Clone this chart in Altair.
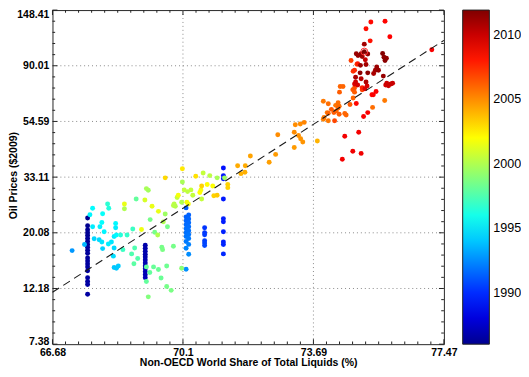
import math
import altair as alt
import pandas as pd

# ---------------- data ----------------
# share = Non-OECD world share of total liquids (%), price = oil price ($2009), year = colour
A_SHARE = [67.59, 67.59, 67.59, 67.59, 67.59, 67.59, 67.59, 67.59, 67.59, 67.59,
           67.59, 67.59, 67.59, 67.59, 67.59, 67.59, 67.59, 67.59, 67.59, 67.59]
A_PRICE = [22.95, 21.39, 20.65, 20.11, 19.59, 19.08, 18.59, 18.10, 17.63, 17.17,
           16.72, 16.01, 15.59, 15.18, 14.79, 14.28, 13.43, 12.97, 12.63, 11.57]
A_YEAR = [1986.0, 1986.0, 1986.1, 1986.1, 1986.1, 1986.2, 1986.2, 1986.2, 1986.3, 1986.3,
          1986.3, 1986.3, 1986.4, 1986.4, 1986.4, 1986.4, 1986.5, 1986.5, 1986.5, 1986.5]

B_SHARE = [69.10, 69.10, 69.10, 69.10, 69.10, 69.10, 69.10, 69.10, 69.10, 69.10, 69.10, 69.10]
B_PRICE = [17.95, 17.48, 17.02, 16.57, 16.15, 15.73, 15.32, 14.92, 14.53, 14.16, 13.79, 13.43]
B_YEAR = [1986.7, 1986.7, 1986.8, 1986.8, 1986.8, 1986.9, 1986.9, 1986.9, 1987.0, 1987.0, 1987.0, 1987.1]

C_SHARE = [71.20, 71.20, 71.20, 71.20, 71.20, 71.20, 71.20, 71.20, 71.20, 71.20]
C_PRICE = [35.92, 33.57, 32.61, 27.19, 22.81, 22.16, 20.29, 18.48, 18.07, 16.62]
C_YEAR = [1989.3, 1989.4, 1989.4, 1989.5, 1989.6, 1989.6, 1989.7, 1989.7, 1989.8, 1989.9]

D_SHARE = [70.69, 70.69, 70.69, 70.69, 70.69, 70.69]
D_PRICE = [21.01, 20.11, 19.72, 18.70, 18.32, 17.91]
D_YEAR = [1990.2, 1990.3, 1990.4, 1990.5, 1990.6, 1990.7]

E_SHARE = [70.19, 70.26, 70.19, 70.26, 70.19, 70.26, 70.19, 70.26, 70.19, 70.26,
           70.19, 70.26, 70.19, 70.26, 70.19, 70.26, 70.19, 70.26, 70.19]
E_PRICE = [25.12, 23.56, 23.15, 22.75, 22.36, 21.97, 21.58, 21.20, 20.84, 20.47,
           20.11, 19.77, 19.42, 19.08, 18.59, 18.10, 17.48, 16.57, 14.49]
E_YEAR = [1991.3, 1991.4, 1991.4, 1991.5, 1991.5, 1991.6, 1991.6, 1991.7, 1991.7, 1991.8,
          1991.8, 1991.9, 1991.9, 1992.0, 1992.0, 1992.2, 1992.3, 1992.5, 1992.6]

F_SHARE = [67.19, 67.51, 67.72, 67.65, 67.98, 68.11, 68.14, 67.72, 67.91, 68.02,
           67.96, 68.32, 68.32, 67.76, 67.89, 67.96, 68.13, 67.98, 68.21, 68.28,
           68.34, 68.45, 68.62, 68.77, 68.28, 68.51, 68.26, 68.28, 68.39, 68.34,
           68.74, 68.82, 68.90, 68.80, 69.00, 68.86, 68.55, 68.55, 69.13, 69.18,
           69.09, 69.28, 69.23, 69.45, 69.63, 69.58, 69.69, 69.35, 69.43, 69.54,
           69.56, 69.85, 69.13, 69.22, 69.32, 69.45, 69.52, 69.67, 69.13, 69.67,
           69.79, 69.18, 70.07, 69.63, 70.09, 70.09, 69.87, 69.90, 69.98, 69.95,
           70.14, 70.23, 70.32, 70.37, 70.21, 70.07, 70.45, 70.65, 70.83, 71.03,
           70.61, 70.76, 70.56, 70.61, 70.59, 70.91, 70.94, 71.03, 71.32, 71.32,
           71.23, 71.59, 71.80, 71.68, 71.79, 71.94, 72.46, 72.64, 72.70, 69.85, 70.25]
F_PRICE = [17.12, 18.07, 25.06, 23.62, 23.83, 26.02, 25.06, 21.20, 21.20, 20.29,
           22.02, 21.83, 21.01, 19.03, 18.87, 18.48, 18.15, 17.43, 18.48, 19.42,
           19.71, 19.71, 19.71, 20.78, 17.52, 17.27, 16.29, 14.70, 14.92, 14.62,
           16.62, 17.52, 15.96, 15.22, 20.70, 27.19, 26.02, 24.92, 29.87, 29.43,
           26.95, 25.50, 22.61, 24.35, 23.80, 22.16, 21.20, 20.18, 19.71, 17.63,
           17.27, 17.79, 14.79, 14.07, 14.79, 14.46, 13.39, 14.92, 12.97, 12.41,
           11.98, 11.30, 14.62, 32.90, 35.70, 31.69, 26.02, 25.50, 28.15, 27.60,
           29.53, 29.08, 29.53, 28.15, 26.41, 26.41, 33.40, 34.38, 33.57, 32.90,
           30.59, 31.02, 28.84, 27.19, 29.53, 30.59, 28.00, 28.15, 31.02, 30.13,
           32.90, 36.65, 36.65, 34.17, 34.59, 40.02, 37.86, 40.62, 48.42, 25.66, 26.02]
F_YEAR = [1992.8, 1993.6, 1995.4, 1995.2, 1995.6, 1996.6, 1996.3, 1995.0, 1995.1, 1995.2,
          1995.5, 1995.3, 1995.0, 1994.4, 1994.5, 1994.8, 1995.0, 1994.3, 1994.8, 1995.0,
          1995.3, 1996.4, 1996.8, 1997.0, 1994.5, 1997.0, 1994.6, 1994.0, 1994.1, 1994.0,
          1997.5, 1997.5, 1997.6, 1997.8, 2001.6, 1998.0, 2001.5, 2000.0, 1999.8, 1999.6,
          2001.0, 2001.5, 1998.5, 2001.5, 1999.5, 2000.0, 1998.5, 1998.5, 2000.0, 1998.5,
          1998.6, 1998.5, 1998.0, 1998.0, 1998.1, 1998.2, 1998.2, 1998.3, 1998.0, 1998.5,
          1998.6, 1998.8, 1999.0, 2003.0, 2002.6, 1999.8, 2000.2, 2000.0, 2001.8, 2000.5,
          2000.5, 2000.3, 2000.5, 2000.5, 2001.8, 2000.0, 2002.8, 2000.5, 2000.3, 1999.8,
          2003.2, 2002.0, 2002.0, 2000.5, 2001.8, 2002.0, 2003.2, 2003.4, 2003.2, 2003.2,
          1999.5, 2004.2, 2004.2, 2004.0, 2004.1, 2004.4, 2004.5, 2004.6, 2005.0, 2000.2, 2001.8]

G_SHARE = [73.19, 73.33, 73.44, 73.16, 73.28, 73.34, 73.40, 73.16, 73.81, 73.98,
           74.12, 74.00, 74.12, 74.21, 74.28, 74.35, 74.40, 74.09, 73.98, 74.12,
           74.30, 74.46, 74.54, 74.44, 74.40, 74.43, 74.33, 74.82, 74.87, 74.83,
           75.09, 75.37, 74.59, 74.63, 74.74, 74.92, 75.13, 75.25, 75.39, 74.59,
           74.99, 74.82, 75.06, 74.52, 75.74, 75.41, 75.49, 75.34, 75.75, 75.20,
           75.89, 75.32, 75.15, 75.15, 74.92, 74.97, 75.06, 75.09, 75.25, 74.77,
           74.96, 75.18, 75.20, 75.04, 74.83, 74.87, 75.03, 75.25, 74.90, 75.06,
           75.20, 74.90, 74.87, 74.96, 75.23, 75.17, 75.09, 75.47, 75.51, 75.56,
           75.42, 75.68, 75.72, 75.79, 75.75, 75.70, 75.77, 75.85, 75.92, 75.97,
           75.80, 77.12, 74.94, 74.87, 74.43]
G_PRICE = [53.01, 53.34, 54.14, 49.59, 48.15, 46.75, 45.39, 43.19, 45.78, 65.45,
           63.97, 56.57, 58.75, 60.85, 59.11, 59.95, 61.66, 59.11, 55.73, 54.90,
           54.90, 74.67, 74.67, 71.03, 64.54, 62.63, 63.08, 72.54, 71.03, 67.45,
           73.99, 69.42, 58.59, 57.87, 63.58, 64.14, 57.07, 59.11, 61.95, 47.84,
           49.59, 41.76, 40.98, 38.86, 65.86, 69.42, 71.45, 133.35, 134.17, 125.4,
           116.9, 112.56, 109.3, 102.2, 100.3, 98.65, 100.3, 97.80, 100.1, 94.42,
           91.69, 94.97, 91.06, 90.35, 85.70, 86.47, 84.46, 84.46, 81.23, 80.10,
           77.75, 77.75, 76.40, 75.79, 75.13, 73.18, 72.54, 86.47, 88.99, 86.47,
           83.98, 100.5, 97.20, 96.35, 94.42, 82.04, 75.79, 75.26, 76.40, 76.96,
           76.96, 103.99, 91.2, 73.8, 58.24]
G_YEAR = [2005.0, 2005.0, 2005.2, 2005.0, 2004.9, 2004.8, 2004.8, 2004.6, 2004.0, 2005.5,
          2005.8, 2005.5, 2006.0, 2006.3, 2006.3, 2006.0, 2006.0, 2005.5, 2005.3, 2005.5,
          2006.8, 2006.0, 2006.0, 2006.2, 2005.8, 2005.8, 2005.6, 2006.3, 2006.2, 2006.0,
          2007.8, 2008.5, 2006.0, 2006.0, 2006.3, 2008.5, 2008.8, 2008.8, 2005.8, 2008.9,
          2008.9, 2009.0, 2009.0, 2008.9, 2005.5, 2008.7, 2008.7, 2008.4, 2008.5, 2008.3,
          2008.6, 2008.2, 2011.0, 2011.9, 2011.3, 2011.2, 2011.5, 2011.0, 2011.4, 2007.0,
          2008.0, 2010.0, 2011.0, 2011.2, 2007.3, 2007.5, 2011.5, 2011.6, 2010.8, 2010.5,
          2010.6, 2009.8, 2009.5, 2009.7, 2009.6, 2009.5, 2007.0, 2011.0, 2011.2, 2011.3,
          2010.8, 2011.8, 2011.5, 2011.4, 2011.6, 2011.3, 2009.8, 2009.9, 2010.0, 2010.0,
          2009.9, 2008.8, 2006.8, 2006.5, 2006.2]

# highlighted latest observation (ringed point)
RING_SHARE = [75.15]
RING_PRICE = [102.2]

# dashed fit line end points
LINE_SHARE = [66.686, 77.478]
LINE_PRICE = [11.77, 113.1]

# axis tick labels and colour bar
X_TICK_LABELS = ["66.68", "70.1", "73.69", "77.47"]
Y_TICK_LABELS = ["7.38", "12.18", "20.08", "33.11", "54.59", "90.01", "148.41"]
CBAR_LABELS = [1990, 1995, 2000, 2005, 2010]
YEAR_MIN, YEAR_MAX = 1986.0, 2011.9
JET_FRAC = [0.0, 0.111, 0.365, 0.619, 0.873, 1.0]
JET_COLORS = ["#00008f", "#0000ff", "#00ffff", "#ffff00", "#ff0000", "#800000"]

# ---------------- chart ----------------
W, H = 396, 338
FONT = "Liberation Sans"

X_MAJOR = [math.exp(4.2 + 0.05 * i) for i in range(4)]
Y_MAJOR = [math.exp(2.0 + 0.5 * i) for i in range(7)]
X_MINOR = [math.exp(4.2 + 0.005 * i) for i in range(31) if i % 10]
Y_MINOR = [math.exp(2.0 + 0.1 * i) for i in range(31) if i % 5]


def label_expr(vals, labels):
    expr = "'%s'" % labels[-1]
    for i in range(len(vals) - 2, -1, -1):
        mid = math.sqrt(vals[i] * vals[i + 1])
        expr = "datum.value < %.5f ? '%s' : " % (mid, labels[i]) + expr
    return expr


frames = []
for s, p, y in [(A_SHARE, A_PRICE, A_YEAR), (B_SHARE, B_PRICE, B_YEAR),
                (C_SHARE, C_PRICE, C_YEAR), (D_SHARE, D_PRICE, D_YEAR),
                (E_SHARE, E_PRICE, E_YEAR), (F_SHARE, F_PRICE, F_YEAR),
                (G_SHARE, G_PRICE, G_YEAR)]:
    frames.append(pd.DataFrame({"share": s, "price": p, "year": y}))
df = pd.concat(frames, ignore_index=True).sort_values("year", kind="stable")

xscale = alt.Scale(type="log", domain=[X_MAJOR[0], X_MAJOR[-1]], nice=False)
yscale = alt.Scale(type="log", domain=[Y_MAJOR[0], Y_MAJOR[-1]], nice=False)

top_test = "datum.value > %.3f" % math.sqrt(Y_MAJOR[-1] * Y_MAJOR[-2])
bottom_test = "datum.value < %.3f" % math.sqrt(Y_MAJOR[0] * Y_MAJOR[1])

xaxis = alt.Axis(values=X_MAJOR, labelExpr=label_expr(X_MAJOR, X_TICK_LABELS),
                 title="Non-OECD World Share of Total Liquids (%)",
                 grid=False, ticks=False, tickSize=0, domain=False,
                 labelFlush=False, labelOverlap=False,
                 labelFont=FONT, labelFontSize=10.6, labelFontWeight="bold",
                 labelColor="#000000", labelPadding=3,
                 titleFont=FONT, titleFontSize=10.6, titleFontWeight="bold",
                 titleColor="#000000", titleY=21.5, titleBaseline="alphabetic")
yaxis = alt.Axis(values=Y_MAJOR, labelExpr=label_expr(Y_MAJOR, Y_TICK_LABELS),
                 title="Oil Prices ($2009)",
                 grid=False, ticks=False, tickSize=0, domain=False,
                 labelFlush=False, labelOverlap=False,
                 labelBaseline={"condition": {"test": top_test, "value": "top"},
                                "value": "middle"},
                 labelOffset={"condition": {"test": bottom_test, "value": -3},
                              "value": 0},
                 labelFont=FONT, labelFontSize=10.6, labelFontWeight="bold",
                 labelColor="#000000", labelPadding=3.7,
                 titleFont=FONT, titleFontSize=10.6, titleFontWeight="bold",
                 titleColor="#000000", titleX=-39, titleY=167, titleAngle=270,
                 titleAlign="center", titleBaseline="middle")

X = alt.X("share:Q", scale=xscale, axis=xaxis)
Y = alt.Y("price:Q", scale=yscale, axis=yaxis)

cscale = alt.Scale(domain=[YEAR_MIN + f * (YEAR_MAX - YEAR_MIN) for f in JET_FRAC],
                   range=JET_COLORS, interpolate="rgb")
legend = alt.Legend(orient="none", legendX=415, legendY=0, direction="vertical",
                    gradientLength=H, gradientThickness=27, values=CBAR_LABELS,
                    format="d", labelFont=FONT, labelFontSize=12.7, labelColor="#000000",
                    labelOffset=4, title=None, padding=0,
                    gradientStrokeColor="#222222", gradientStrokeWidth=1)

grid_style = dict(color="#8a8a8a", strokeDash=[1, 3], strokeWidth=1)
grid_x = alt.Chart(pd.DataFrame({"share": X_MAJOR[1:-1]})).mark_rule(**grid_style).encode(
    x=X, y=alt.value(0), y2=alt.value(H))
grid_y = alt.Chart(pd.DataFrame({"price": Y_MAJOR[1:-1]})).mark_rule(**grid_style).encode(
    y=Y, x=alt.value(0), x2=alt.value(W))

points = alt.Chart(df).mark_circle(size=25, opacity=1).encode(
    x=X, y=Y, color=alt.Color("year:Q", scale=cscale, legend=legend))

ring = alt.Chart(pd.DataFrame({"share": RING_SHARE, "price": RING_PRICE})).mark_point(
    shape="circle", filled=False, color="#ff3030", size=50, strokeWidth=1, opacity=1
).encode(x=X, y=Y)

fit = alt.Chart(pd.DataFrame({"share": LINE_SHARE, "price": LINE_PRICE})).mark_line(
    color="#1a1a1a", strokeDash=[8, 5], strokeWidth=1.1).encode(x=X, y=Y)

tick_layers = []
for vals, ln in [(X_MAJOR, 5), (X_MINOR, 2.7)]:
    d = pd.DataFrame({"share": vals})
    tick_layers.append(alt.Chart(d).mark_rule(color="#222222", strokeWidth=1).encode(
        x=X, y=alt.value(H), y2=alt.value(H - ln)))
    tick_layers.append(alt.Chart(d).mark_rule(color="#222222", strokeWidth=1).encode(
        x=X, y=alt.value(0), y2=alt.value(ln)))
for vals, ln in [(Y_MAJOR, 5), (Y_MINOR, 2.7)]:
    d = pd.DataFrame({"price": vals})
    tick_layers.append(alt.Chart(d).mark_rule(color="#222222", strokeWidth=1).encode(
        y=Y, x=alt.value(0), x2=alt.value(ln)))
    tick_layers.append(alt.Chart(d).mark_rule(color="#222222", strokeWidth=1).encode(
        y=Y, x=alt.value(W), x2=alt.value(W - ln)))

chart = alt.layer(grid_x, grid_y, points, ring, fit, *tick_layers).properties(
    width=W, height=H,
    autosize=alt.AutoSizeParams(type="none"),
    padding={"left": 45, "top": 0, "right": 78, "bottom": 22},
).configure_view(stroke="#262626", strokeWidth=1)

chart.save("out.html", embed_options={"renderer": "svg", "actions": False})
